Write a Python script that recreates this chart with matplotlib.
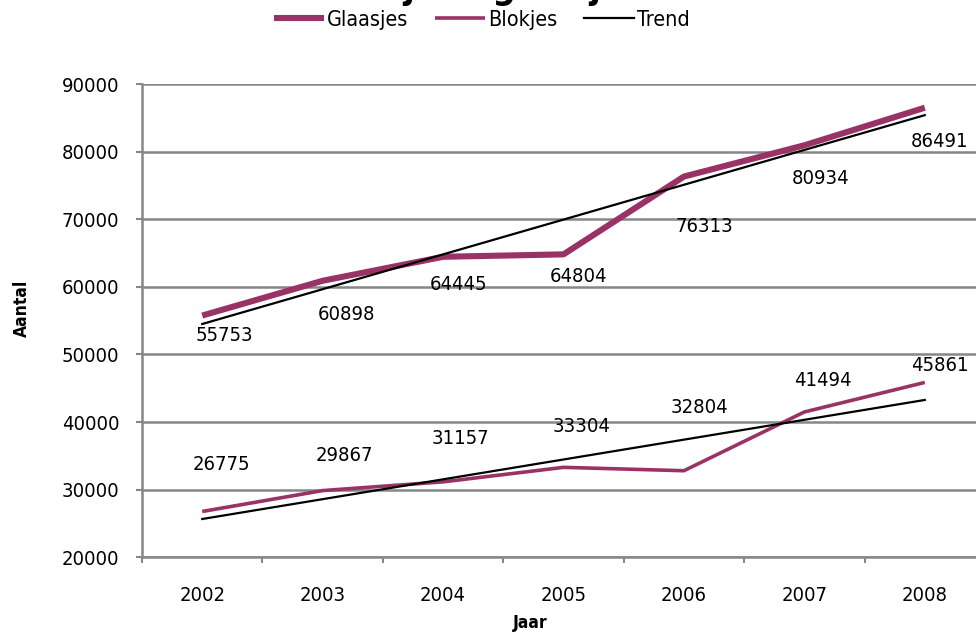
import numpy as np
import matplotlib
matplotlib.use("Agg")
import matplotlib.pyplot as plt
from matplotlib import font_manager
from matplotlib.ticker import FixedLocator, NullFormatter, FixedFormatter

years = ["2002", "2003", "2004", "2005", "2006", "2007", "2008"]
glaasjes = [55753, 60898, 64445, 64804, 76313, 80934, 86491]
blokjes = [26775, 29867, 31157, 33304, 32804, 41494, 45861]
y_ticks = [20000, 30000, 40000, 50000, 60000, 70000, 80000, 90000]

# label offsets in pixels (dx right, dy down) -- layout only
g_off = [(22, 20), (24, 34), (15, 28), (15, 22), (20, 50), (16, 33), (15, 34)]
b_off = [(19, -47), (22, -35), (17, -43), (18, -41), (16, -63), (18, -31), (15, -17)]

# pick a condensed face if one is installed
names = {f.name for f in font_manager.fontManager.ttflist}
if "Liberation Sans Narrow" in names:
    plt.rcParams["font.family"] = ["Liberation Sans Narrow", "DejaVu Sans"]
    FS = 16
else:
    plt.rcParams["font.family"] = ["DejaVu Sans"]
    plt.rcParams["font.stretch"] = "condensed"
    FS = 14.5

PLUM = "#993366"
GRID = "#878787"

fig = plt.figure(figsize=(9.76, 6.32), dpi=100)
W, H = 976, 632
left, right, top, bottom = 142, 985, 84, 557.3
ax = fig.add_axes([left / W, 1 - bottom / H, (right - left) / W, (bottom - top) / H])

x = np.arange(len(years))
ax.plot(x, glaasjes, color=PLUM, lw=4.4, solid_capstyle="butt", label="Glaasjes", zorder=3)
ax.plot(x, blokjes, color=PLUM, lw=2.6, solid_capstyle="butt", label="Blokjes", zorder=3)

for series in (glaasjes, blokjes):
    k, b = np.polyfit(x, series, 1)
    lbl = "Trend" if series is glaasjes else None
    ax.plot(x, k * x + b, color="black", lw=1.6, label=lbl, zorder=4)

px = 0.72
for xi, v, (dx, dy) in zip(x, glaasjes, g_off):
    ax.annotate(str(v), (xi, v), xytext=(dx * px, -dy * px), textcoords="offset points",
                ha="center", va="center", fontsize=FS, color="black")
for xi, v, (dx, dy) in zip(x, blokjes, b_off):
    ax.annotate(str(v), (xi, v), xytext=(dx * px, -dy * px), textcoords="offset points",
                ha="center", va="center", fontsize=FS, color="black")

ax.set_xlim(-0.5, len(years) - 0.5)
ax.set_ylim(y_ticks[0], y_ticks[-1])
ax.set_yticks(y_ticks)
ax.set_yticklabels([str(t) for t in y_ticks], fontsize=FS)
ax.yaxis.grid(True, color=GRID, lw=1.8)
ax.set_axisbelow(True)

ax.xaxis.set_major_locator(FixedLocator(np.arange(-0.5, len(years), 1.0)))
ax.xaxis.set_major_formatter(NullFormatter())
ax.xaxis.set_minor_locator(FixedLocator(x))
ax.xaxis.set_minor_formatter(FixedFormatter(years))
ax.tick_params(axis="x", which="major", length=4.5, width=1.5, color=GRID, direction="out")
ax.tick_params(axis="x", which="minor", length=0, pad=21, labelsize=FS)
ax.tick_params(axis="y", length=4.5, width=1.5, color=GRID, pad=12)

for s in ("top", "right"):
    ax.spines[s].set_visible(False)
for s in ("left", "bottom"):
    ax.spines[s].set_color(GRID)
    ax.spines[s].set_linewidth(1.8)

fig.text(22 / W, 1 - 308 / H, "Aantal", rotation=90, ha="center", va="center",
         fontsize=FS - 2, fontweight="bold")
fig.text(530 / W, 1 - 623 / H, "Jaar", ha="center", va="center",
         fontsize=FS - 2, fontweight="bold")

# chart title, clipped by the top edge as in the reference
fig.text(0.495, 1 + 1.5 / H, "Blokjes - glaasjes", ha="center", va="baseline",
         fontsize=26, fontweight="bold")

leg = fig.legend(loc="center", bbox_to_anchor=(482 / W, 1 - 20 / H), ncol=3, frameon=False,
                 fontsize=FS + 1, handlelength=2.3, handletextpad=0.15, columnspacing=1.25)

fig.savefig("out.png", dpi=100)
